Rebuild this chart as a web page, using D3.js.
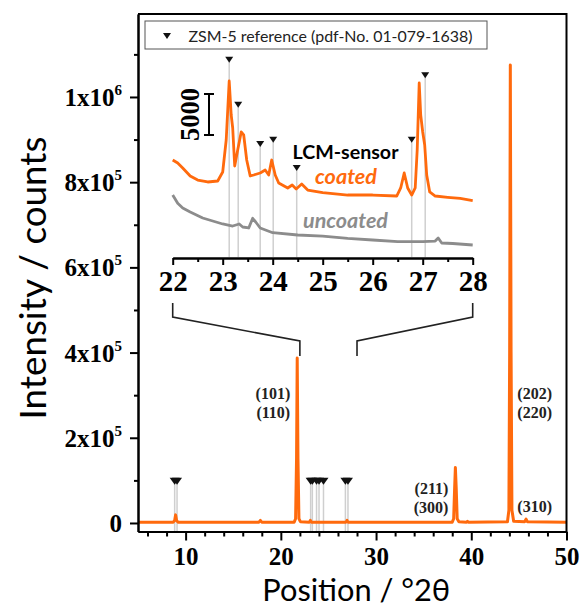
<!DOCTYPE html>
<html><head><meta charset="utf-8">
<script src="https://cdn.jsdelivr.net/npm/d3@7"></script>
<style>body{margin:0;background:#fff}</style>
</head><body>
<svg id="c" width="580" height="608"></svg>
<script>
// ---------------- data ----------------
const mainTheta  = [5, 8.7, 8.85, 8.95, 9.05, 9.2, 17.7, 17.85, 18.0, 21.4, 21.55, 21.65, 21.72, 21.8, 21.9, 22.05, 23.0, 23.1, 23.2, 26.85, 26.95, 27.05, 38.0, 38.15, 38.25, 38.33, 38.42, 38.52, 38.7, 39.5, 39.6, 39.7, 43.8, 43.95, 44.03, 44.1, 44.18, 44.27, 44.45, 45.6, 45.75, 45.9, 50];
const mainCounts = [2000, 2000, 6000, 19000, 6000, 2000, 2000, 6000, 2000, 2000, 10000, 150000, 387000, 150000, 10000, 3000, 2000, 6000, 2000, 2000, 6000, 2000, 2000, 10000, 80000, 130000, 80000, 10000, 3000, 2000, 4000, 2000, 3000, 30000, 400000, 1075000, 400000, 30000, 4000, 3000, 9000, 3000, 2000];

const coatedTheta  = [22.0, 22.1, 22.2, 22.35, 22.5, 22.7, 22.9, 23.0, 23.07, 23.13, 23.17, 23.2, 23.24, 23.3, 23.37, 23.42, 23.48, 23.55, 23.62, 23.75, 23.85, 23.92, 23.98, 24.05, 24.12, 24.3, 24.39, 24.47, 24.58, 24.7, 25.0, 25.5, 26.0, 26.48, 26.56, 26.63, 26.7, 26.78, 26.85, 26.89, 26.93, 26.96, 27.0, 27.04, 27.08, 27.14, 27.25, 27.5, 27.75, 28.0];
const coatedCounts = [11950, 11585, 10975, 10000, 9510, 9270, 9390, 10490, 14390, 21585, 17440, 15850, 11220, 13170, 15370, 15000, 11950, 10000, 10120, 10370, 10730, 10120, 11950, 10120, 9150, 8540, 8900, 8415, 9020, 8290, 7960, 7680, 7680, 7560, 8540, 10370, 8540, 7680, 8540, 13170, 21340, 17440, 15370, 13780, 10120, 8050, 7560, 7400, 7260, 6990];

const uncoatedTheta  = [22.0, 22.1, 22.2, 22.35, 22.6, 22.8, 23.0, 23.2, 23.33, 23.4, 23.52, 23.6, 23.66, 23.75, 24.0, 24.5, 25.0, 25.5, 26.0, 26.5, 27.0, 27.25, 27.31, 27.38, 27.6, 28.0];
const uncoatedCounts = [7680, 6670, 6100, 5610, 4880, 4510, 4150, 3900, 4150, 3780, 3660, 4840, 4390, 3660, 3085, 2805, 2680, 2400, 2195, 1990, 1990, 2070, 2440, 1830, 1770, 1585];

const refMainTheta   = [8.85, 9.1, 23.13, 23.31, 23.75, 24.01, 24.48, 26.78, 27.05];
const refMainLevel   = 97000;
const refInsetTheta  = [23.13, 23.31, 23.75, 24.01, 24.48, 26.78, 27.05];
const refInsetLevel  = [23940, 18450, 13660, 14180, 10730, 14180, 22040];

const xMajorTicks = [10, 20, 30, 40, 50];
const xMinorTicks = [6, 8, 12, 14, 16, 18, 22, 24, 26, 28, 32, 34, 36, 38, 42, 44, 46, 48];
const yMajorTicks = [0, 200000, 400000, 600000, 800000, 1000000];
const yTickMantissa = ["0", "2x10", "4x10", "6x10", "8x10", "1x10"];
const yTickExponent = ["", "5", "5", "5", "5", "6"];
const yMinorTicks = [100000, 300000, 500000, 700000, 900000, 1100000];
const insetMajorTicks = [22, 23, 24, 25, 26, 27, 28];
const insetMinorTicks = [22.5, 23.5, 24.5, 25.5, 26.5, 27.5];

const hklLabels = [
  {theta: 21.72, lines: ["(101)", "(110)"], side: "left",  level: 300000},
  {theta: 44.1,  lines: ["(202)", "(220)"], side: "right", level: 300000},
  {theta: 38.33, lines: ["(211)", "(300)"], side: "left",  level: 77000},
  {theta: 44.1,  lines: ["(310)"],          side: "right", level: 38000}
];
const scaleBarCounts = 5000;

// ---------------- drawing ----------------
const svg = d3.select("#c");
const ORANGE = "#ff6a0d", GREY = "#8c8c8c", REF = "#cfcfcf";
const serif = "'Liberation Serif', 'Times New Roman', serif";
const sans = "Lato, 'Open Sans', sans-serif";

const x = d3.scaleLinear().domain([5, 50]).range([138, 566.5]);
const y = d3.scaleLinear().domain([-20000, 1195000]).range([531.5, 13.9]);

function fit(sel, w) {
  const cur = sel.node().getComputedTextLength();
  const fs = parseFloat(sel.attr("font-size"));
  sel.attr("font-size", (fs * w / cur).toFixed(2));
}

// main reference lines
const gRefMain = svg.append("g");
refMainTheta.forEach(t => {
  gRefMain.append("line").attr("x1", x(t)).attr("x2", x(t))
    .attr("y1", y(refMainLevel)).attr("y2", y(-20000))
    .attr("stroke", REF).attr("stroke-width", 1.5);
});
refMainTheta.forEach(t => {
  const cx = x(t), cy = y(refMainLevel);
  gRefMain.append("path").attr("d", `M${cx-5},${cy-4}L${cx+5},${cy-4}L${cx},${cy+3}Z`).attr("fill", "#111");
});

// main curve
const mainPts = mainTheta.map((t, i) => [t, mainCounts[i]]);
svg.append("path").datum(mainPts)
  .attr("d", d3.line().x(d => x(d[0])).y(d => y(d[1])))
  .attr("fill", "none").attr("stroke", ORANGE).attr("stroke-width", 3).attr("stroke-linejoin", "round");

// axes
const xAxisY = y(-20000);
svg.append("g").attr("transform", `translate(0,${xAxisY})`)
  .call(d3.axisBottom(x).tickValues(xMinorTicks).tickSize(5).tickSizeOuter(0).tickFormat(""))
  .call(g => g.selectAll("line,path").attr("stroke", "#000").attr("stroke-width", 2));
const xMaj = svg.append("g").attr("transform", `translate(0,${xAxisY})`)
  .call(d3.axisBottom(x).tickValues(xMajorTicks).tickSize(9).tickSizeOuter(0).tickPadding(6).tickFormat(d3.format("d")));
xMaj.selectAll("line,path").attr("stroke", "#000").attr("stroke-width", 2);
xMaj.selectAll("text").attr("font-family", serif).attr("font-weight", "bold").attr("font-size", 25).attr("fill", "#000").attr("dy", "0.72em");

svg.append("g").attr("transform", `translate(138,0)`)
  .call(d3.axisLeft(y).tickValues(yMinorTicks).tickSize(4).tickSizeOuter(0).tickFormat(""))
  .call(g => g.selectAll("line,path").attr("stroke", "#000").attr("stroke-width", 2));
svg.append("g").attr("transform", `translate(138,0)`)
  .call(d3.axisLeft(y).tickValues(yMajorTicks).tickSize(8).tickSizeOuter(0).tickFormat(""))
  .call(g => g.selectAll("line,path").attr("stroke", "#000").attr("stroke-width", 2));
yMajorTicks.forEach((v, i) => {
  const t = svg.append("text").attr("x", 122).attr("y", y(v) + 9)
    .attr("text-anchor", "end").attr("font-family", serif).attr("font-weight", "bold").attr("font-size", 25);
  t.append("tspan").text(yTickMantissa[i]);
  if (yTickExponent[i]) t.append("tspan").attr("font-size", 15).attr("dy", -11).text(yTickExponent[i]);
});

// frame top/right
svg.append("path").attr("d", `M138,${y(1195000)}H${x(50)}V${xAxisY}`)
  .attr("fill", "none").attr("stroke", "#000").attr("stroke-width", 2);

// axis titles
const xt = svg.append("text").attr("x", (x(5) + x(50)) / 2 + 4).attr("y", 601).attr("text-anchor", "middle")
  .attr("font-family", sans).attr("font-size", 30).attr("fill", "#000").text("Position / °2θ");
fit(xt, 188);
const yt = svg.append("text").attr("transform", "translate(46,278) rotate(-90)").attr("text-anchor", "middle")
  .attr("font-family", sans).attr("font-size", 30).attr("fill", "#000").text("Intensity / counts");
fit(yt, 283);

// hkl labels
const hklSpacing = 18.5;
hklLabels.forEach(h => {
  const tx = h.side === "left" ? x(h.theta) - 7 : x(h.theta) + 7;
  h.lines.forEach((s, k) => {
    svg.append("text").attr("x", tx)
      .attr("y", y(h.level) + 5 + (h.lines.length > 1 ? (k - 0.5) * hklSpacing + 8.3 : 0))
      .attr("text-anchor", h.side === "left" ? "end" : "start")
      .attr("font-family", serif).attr("font-weight", "bold").attr("font-size", 16).attr("fill", "#222").text(s);
  });
});

// ---------------- inset ----------------
const xi = d3.scaleLinear().domain([22, 28]).range([172.7, 472.7]);
const yi = d3.scaleLinear().domain([0, 24000]).range([258, 61.2]);

const gIn = svg.append("g");
refInsetTheta.forEach((t, i) => {
  gIn.append("line").attr("x1", xi(t)).attr("x2", xi(t)).attr("y1", yi(refInsetLevel[i])).attr("y2", yi(0) - 1)
    .attr("stroke", REF).attr("stroke-width", 1.5);
});
const lineI = d3.line().x(d => xi(d[0])).y(d => yi(d[1]));
gIn.append("path").datum(uncoatedTheta.map((t, i) => [t, uncoatedCounts[i]]))
  .attr("d", lineI).attr("fill", "none").attr("stroke", GREY).attr("stroke-width", 2.8).attr("stroke-linejoin", "round");
gIn.append("path").datum(coatedTheta.map((t, i) => [t, coatedCounts[i]]))
  .attr("d", lineI).attr("fill", "none").attr("stroke", ORANGE).attr("stroke-width", 2.8).attr("stroke-linejoin", "round");
refInsetTheta.forEach((t, i) => {
  const cx = xi(t), cy = yi(refInsetLevel[i]);
  gIn.append("path").attr("d", `M${cx-4},${cy-5}L${cx+4},${cy-5}L${cx},${cy+1}Z`).attr("fill", "#111");
});

gIn.append("g").attr("transform", `translate(0,${yi(0)})`)
  .call(d3.axisBottom(xi).tickValues(insetMinorTicks).tickSize(4).tickSizeOuter(0).tickFormat(""))
  .call(g => g.selectAll("line,path").attr("stroke", "#000").attr("stroke-width", 2));
const xiMaj = gIn.append("g").attr("transform", `translate(0,${yi(0)})`)
  .call(d3.axisBottom(xi).tickValues(insetMajorTicks).tickSize(7).tickSizeOuter(0).tickPadding(5).tickFormat(d3.format("d")));
xiMaj.selectAll("line,path").attr("stroke", "#000").attr("stroke-width", 2);
xiMaj.selectAll("text").attr("font-family", serif).attr("font-weight", "bold").attr("font-size", 29).attr("fill", "#000").attr("dy", "0.71em");

// scale bar
const sbx = 209, sbTop = yi(20000), sbBot = yi(20000 - scaleBarCounts);
gIn.append("path").attr("d", `M${sbx-5},${sbTop}H${sbx+5}M${sbx},${sbTop}V${sbBot}M${sbx-5},${sbBot}H${sbx+5}`)
  .attr("stroke", "#000").attr("stroke-width", 2).attr("fill", "none");
const sbt = gIn.append("text").attr("transform", `translate(199,${(sbTop + sbBot) / 2}) rotate(-90)`)
  .attr("text-anchor", "middle").attr("font-family", serif).attr("font-weight", "bold").attr("font-size", 26).text("5000");
fit(sbt, 53);

// inset labels
const l1 = gIn.append("text").attr("x", 345.5).attr("y", 159).attr("text-anchor", "middle")
  .attr("font-family", sans).attr("font-weight", "bold").attr("font-size", 18).attr("fill", "#000").text("LCM-sensor");
fit(l1, 106);
const l2 = gIn.append("text").attr("x", 346).attr("y", 184).attr("text-anchor", "middle")
  .attr("font-family", sans).attr("font-style", "italic").attr("font-weight", "bold").attr("font-size", 18).attr("fill", ORANGE).text("coated");
fit(l2, 62);
const l3 = gIn.append("text").attr("x", 345.5).attr("y", 228).attr("text-anchor", "middle")
  .attr("font-family", sans).attr("font-style", "italic").attr("font-weight", "bold").attr("font-size", 18).attr("fill", GREY).text("uncoated");
fit(l3, 85);

// brackets
const bTop = 303, bMid = 317, bLow = 341, bEnd = 356;
svg.append("path").attr("d", `M${xi(22)},${bTop}V${bMid}L${x(22)},${bLow}V${bEnd}`)
  .attr("fill", "none").attr("stroke", "#222").attr("stroke-width", 1.6);
svg.append("path").attr("d", `M${xi(28)},${bTop}V${bMid}L${x(28)},${bLow}V${bEnd}`)
  .attr("fill", "none").attr("stroke", "#222").attr("stroke-width", 1.6);

// legend
const lg = svg.append("g");
lg.append("rect").attr("x", 145).attr("y", 21).attr("width", 342).attr("height", 28)
  .attr("fill", "#fff").attr("stroke", "#555").attr("stroke-width", 1);
lg.append("path").attr("d", "M163,33L171,33L167,39Z").attr("fill", "#111");
const lt = lg.append("text").attr("x", 188.5).attr("y", 41.5).attr("font-family", sans).attr("font-size", 16)
  .attr("fill", "#222").text("ZSM-5 reference (pdf-No. 01-079-1638)");
fit(lt, 284);
</script>
</body></html>
